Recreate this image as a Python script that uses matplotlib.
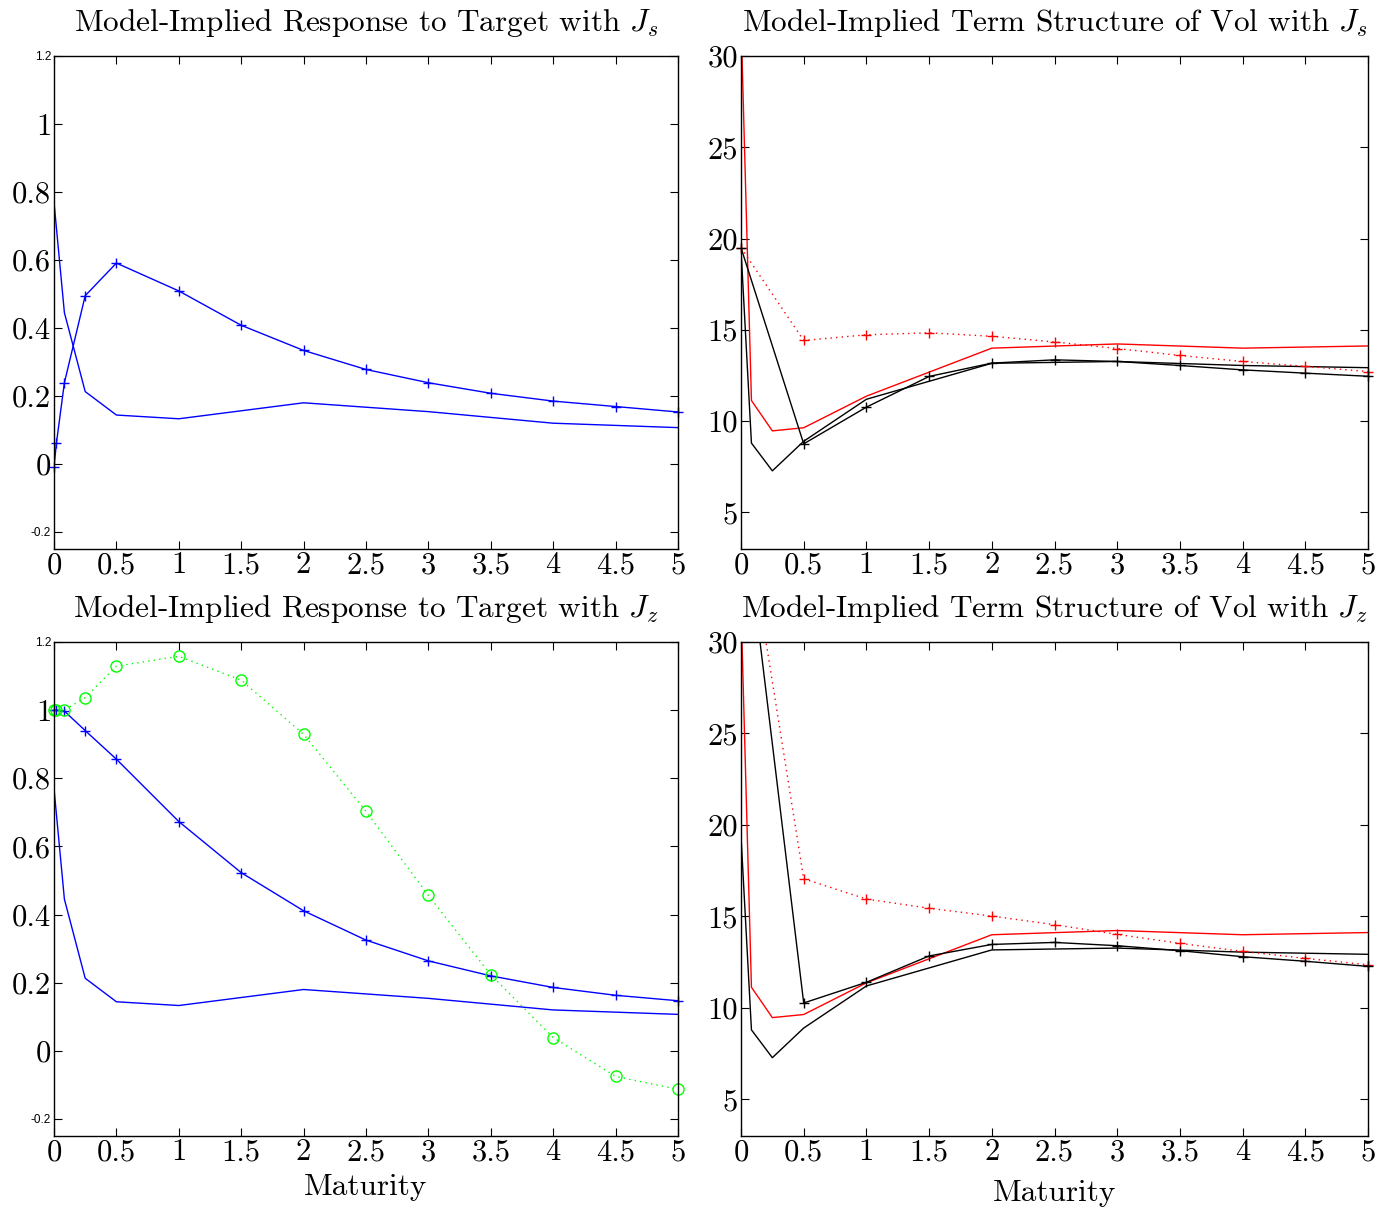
import matplotlib
matplotlib.use("Agg")
import matplotlib.pyplot as plt
from matplotlib.font_manager import FontProperties

plt.rcParams["font.family"] = "cmr10"
plt.rcParams["mathtext.fontset"] = "cm"
plt.rcParams["axes.unicode_minus"] = False

# maturity grids (years)
t_resp = [0, 1/52, 1/12, 0.25, 0.5, 1, 1.5, 2, 2.5, 3, 3.5, 4, 4.5, 5]
t_mkt = [0, 1/12, 0.25, 0.5, 1, 2, 3, 4, 5]
t_model = [0, 0.5, 1, 1.5, 2, 2.5, 3, 3.5, 4, 4.5, 5]

# response to target
resp_mkt = [0.77, 0.445, 0.213, 0.144, 0.133, 0.180, 0.154, 0.120, 0.107]
resp_js = [-0.01, 0.061, 0.239, 0.495, 0.591, 0.509, 0.408, 0.334, 0.278,
           0.239, 0.208, 0.185, 0.169, 0.153]
resp_jz = [1.0, 1.0, 0.997, 0.94, 0.856, 0.673, 0.523, 0.411, 0.325,
           0.264, 0.220, 0.186, 0.163, 0.147]
resp_jz_alt = [1.0, 1.0, 1.0, 1.037, 1.129, 1.158, 1.088, 0.929, 0.703,
               0.456, 0.223, 0.039, -0.075, -0.113]

# term structure of vol
vol_mkt_lo = [19.4, 8.8, 7.28, 8.9, 11.2, 13.17, 13.27, 13.05, 12.93]
vol_mkt_hi = [32.0, 11.13, 9.47, 9.64, 11.37, 14.0, 14.23, 14.0, 14.12]
vol_js = [19.5, 8.76, 10.77, 12.45, 13.18, 13.36, 13.27, 13.05, 12.81, 12.63, 12.46]
vol_js_alt = [19.5, 14.42, 14.73, 14.84, 14.65, 14.34, 13.98, 13.6, 13.27, 13.0, 12.72]
vol_jz = [38.6, 10.27, 11.4, 12.84, 13.47, 13.58, 13.4, 13.13, 12.8, 12.55, 12.27]
vol_jz_alt = [38.6, 17.06, 15.95, 15.45, 15.02, 14.55, 14.02, 13.53, 13.09, 12.71, 12.36]

x_ticks = [0, 0.5, 1, 1.5, 2, 2.5, 3, 3.5, 4, 4.5, 5]
x_labels = ["0", "0.5", "1", "1.5", "2", "2.5", "3", "3.5", "4", "4.5", "5"]
resp_ticks = [-0.2, 0, 0.2, 0.4, 0.6, 0.8, 1, 1.2]
resp_labels = ["-0.2", "0", "0.2", "0.4", "0.6", "0.8", "1", "1.2"]
vol_ticks = [5, 10, 15, 20, 25, 30]
vol_labels = ["5", "10", "15", "20", "25", "30"]

DOT = (0, (1, 3))
FS = 22
TFS = 22.5
small = FontProperties(family="Liberation Sans", size=8.5)

W, H = 1388, 1209
fig = plt.figure(figsize=(W / 100, H / 100), dpi=100)


def make_axes(l, t, r, b):
    return fig.add_axes([l / W, 1 - b / H, (r - l) / W, (b - t) / H])


def style(ax, yt, yl):
    ax.set_xlim(0, 5)
    ax.set_xticks(x_ticks)
    ax.set_xticklabels(x_labels)
    ax.set_yticks(yt)
    ax.set_yticklabels(yl)
    ax.tick_params(direction="in", top=True, right=True, length=6, width=0.8,
                   labelsize=FS, pad=2)
    for s in ax.spines.values():
        s.set_linewidth(1.0)


def line(ax, x, y, color, ls="-", marker=None, ms=7, mfc=None):
    ax.plot(x, y, color=color, ls=ls, lw=1.0)
    if marker:
        ax.plot(x, y, ls="none", marker=marker, ms=ms, mew=1.0, color=color,
                mfc=mfc if mfc else color, clip_on=False)


def shrink_edges(ax):
    for lab in ax.get_yticklabels():
        if lab.get_text() in ("-0.2", "1.2"):
            lab.set_fontproperties(small)


# response panels
ax1 = make_axes(54, 56, 678, 549)
line(ax1, t_mkt, resp_mkt, "blue")
line(ax1, t_resp, resp_js, "blue", marker="+")
ax1.set_ylim(-0.25, 1.2)
style(ax1, resp_ticks, resp_labels)
shrink_edges(ax1)
ax1.set_title("Model-Implied Response to Target with $J_s$", fontsize=TFS, pad=18)

ax3 = make_axes(54, 642, 678, 1136)
line(ax3, t_mkt, resp_mkt, "blue")
line(ax3, t_resp, resp_jz, "blue", marker="+")
line(ax3, t_resp, resp_jz_alt, "#00ff00", ls=DOT, marker="o", ms=8, mfc="none")
ax3.set_ylim(-0.25, 1.2)
style(ax3, resp_ticks, resp_labels)
shrink_edges(ax3)
ax3.set_title("Model-Implied Response to Target with $J_z$", fontsize=TFS, pad=18)
ax3.set_xlabel("Maturity", fontsize=TFS, labelpad=5)

# vol panels
ax2 = make_axes(741, 56, 1368, 549)
line(ax2, t_mkt, vol_mkt_hi, "red")
line(ax2, t_mkt, vol_mkt_lo, "black")
line(ax2, t_model, vol_js_alt, "red", ls=DOT, marker="+")
line(ax2, t_model, vol_js, "black", marker="+")
ax2.set_ylim(3, 30)
style(ax2, vol_ticks, vol_labels)
ax2.set_title("Model-Implied Term Structure of Vol with $J_s$", fontsize=TFS, pad=18)

ax4 = make_axes(741, 642, 1368, 1136)
line(ax4, t_mkt, vol_mkt_hi, "red")
line(ax4, t_mkt, vol_mkt_lo, "black")
line(ax4, t_model[1:], vol_jz_alt[1:], "red", ls=DOT, marker="+")
ax4.plot(t_model[:2], vol_jz_alt[:2], color="red", ls=DOT, lw=1.0)
line(ax4, t_model[1:], vol_jz[1:], "black", marker="+")
ax4.plot(t_model[:2], vol_jz[:2], color="black", lw=1.0)
ax4.set_ylim(3, 30)
style(ax4, vol_ticks, vol_labels)
ax4.set_title("Model-Implied Term Structure of Vol with $J_z$", fontsize=TFS, pad=18)
ax4.set_xlabel("Maturity", fontsize=TFS, labelpad=9)

fig.savefig("out.png", dpi=100)
